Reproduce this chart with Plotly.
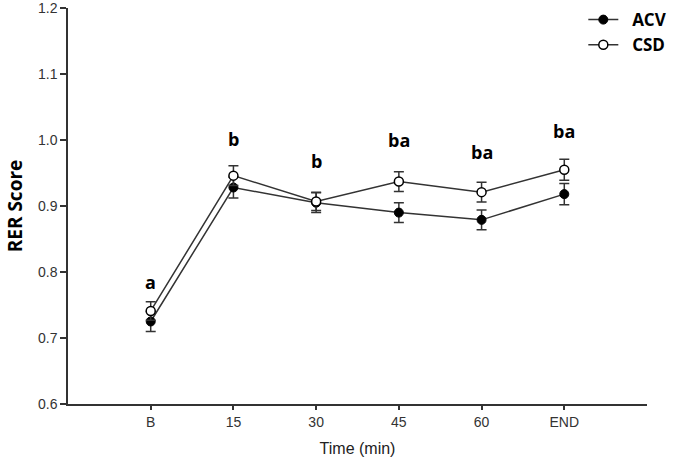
import plotly.graph_objects as go

categories = ["B", "15", "30", "45", "60", "END"]
acv_values = [0.725, 0.928, 0.905, 0.890, 0.879, 0.918]
acv_errors = [0.015, 0.016, 0.015, 0.015, 0.015, 0.016]
csd_values = [0.741, 0.946, 0.907, 0.937, 0.921, 0.955]
csd_errors = [0.014, 0.015, 0.014, 0.015, 0.015, 0.016]
sig_letters = ["a", "b", "b", "ba", "ba", "ba"]
sig_heights = [0.785, 1.001, 0.968, 1.000, 0.982, 1.014]
y_ticks = [0.6, 0.7, 0.8, 0.9, 1.0, 1.1, 1.2]

line_col = "#333333"

fig = go.Figure()
fig.add_trace(go.Scatter(
    x=categories, y=acv_values, name="&nbsp;&nbsp;ACV", mode="lines+markers",
    line=dict(color=line_col, width=1.5),
    marker=dict(symbol="circle", size=9, color="black", line=dict(color="black", width=1)),
    error_y=dict(type="data", array=acv_errors, color=line_col, thickness=1.5, width=5),
))
fig.add_trace(go.Scatter(
    x=categories, y=csd_values, name="&nbsp;&nbsp;CSD", mode="lines+markers",
    line=dict(color=line_col, width=1.5),
    marker=dict(symbol="circle", size=9, color="white", line=dict(color="black", width=1.5)),
    error_y=dict(type="data", array=csd_errors, color=line_col, thickness=1.5, width=5),
))

for i, (letter, h) in enumerate(zip(sig_letters, sig_heights)):
    fig.add_annotation(x=i, y=h, text="<b>%s</b>" % letter, showarrow=False,
                       font=dict(family="Open Sans", size=18, color="black"))

fig.update_layout(
    width=689, height=475,
    margin=dict(l=68, r=42, t=8, b=71, autoexpand=False),
    plot_bgcolor="white", paper_bgcolor="white",
    showlegend=True,
    legend=dict(x=0.89, y=1.015, xanchor="left", yanchor="top",
                font=dict(family="Open Sans", size=17, color="black", weight="bold"),
                bgcolor="rgba(0,0,0,0)", itemwidth=30, tracegroupgap=0),
    xaxis=dict(
        type="category", range=[-1, 6], showgrid=False, zeroline=False,
        showline=True, linecolor=line_col, linewidth=1.5,
        ticks="outside", ticklen=4, tickwidth=1.5, tickcolor=line_col,
        tickfont=dict(family="Liberation Sans", size=14, color="#333333"),
        title=dict(text="Time (min)", font=dict(family="Liberation Sans", size=16, color="#222222"), standoff=14),
    ),
    yaxis=dict(
        range=[0.6, 1.2], tickvals=y_ticks, tickformat=".1f", showgrid=False, zeroline=False,
        showline=True, linecolor=line_col, linewidth=1.5,
        ticks="outside", ticklen=6, tickwidth=1.5, tickcolor=line_col,
        ticklabeloverflow="allow",
        tickfont=dict(family="Liberation Sans", size=14, color="#333333"),
        title=dict(text="<b>RER Score</b>", font=dict(family="Open Sans", size=19, color="black"), standoff=10),
    ),
)

fig.write_html("out.html", config={"displayModeBar": False},
               post_script="document.body.style.margin='0';")
